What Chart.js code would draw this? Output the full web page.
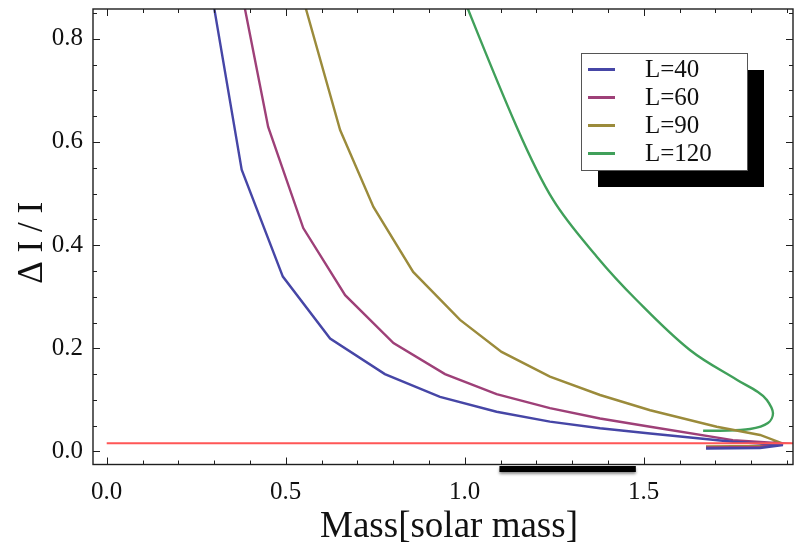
<!DOCTYPE html>
<html>
<head>
<meta charset="utf-8">
<script src="https://cdn.jsdelivr.net/npm/chart.js@4.4.1/dist/chart.umd.min.js"></script>
<style>
  html, body { margin: 0; padding: 0; background: #ffffff; }
  #wrap { width: 798px; height: 548px; }
</style>
</head>
<body>
<div id="wrap"><canvas id="c" width="798" height="548"></canvas></div>
<script>
// ---- data ----
const seriesNames = ['L=40', 'L=60', 'L=90', 'L=120'];

const massL40 = [0.278, 0.377, 0.492, 0.624, 0.777, 0.931, 1.089, 1.238, 1.378, 1.518, 1.749, 1.889, 1.825, 1.674];
const dIL40   = [0.95, 0.546, 0.339, 0.219, 0.150, 0.106, 0.077, 0.058, 0.045, 0.035, 0.019, 0.0126, 0.0068, 0.0058];

const massL60 = [0.360, 0.451, 0.549, 0.666, 0.801, 0.945, 1.089, 1.238, 1.378, 1.518, 1.749, 1.885, 1.825, 1.674];
const dIL60   = [0.95, 0.629, 0.433, 0.303, 0.210, 0.150, 0.111, 0.084, 0.064, 0.048, 0.022, 0.016, 0.0087, 0.0078];

const massL90 = [0.519, 0.652, 0.745, 0.856, 0.987, 1.103, 1.238, 1.378, 1.518, 1.704, 1.825, 1.875, 1.825, 1.674];
const dIL90   = [0.95, 0.623, 0.474, 0.348, 0.255, 0.193, 0.145, 0.1095, 0.080, 0.048, 0.032, 0.019, 0.0107, 0.0097];

const massL120 = [0.955, 1.145, 1.2475, 1.369, 1.480, 1.629, 1.761, 1.819, 1.844, 1.861, 1.847, 1.797, 1.713, 1.666];
const dIL120   = [0.95, 0.6295, 0.487, 0.3775, 0.2936, 0.1967, 0.1386, 0.1153, 0.0998, 0.0746, 0.0552, 0.0436, 0.0403, 0.0403];

const refLineMass = [0.0, 1.917];
const refLineDI   = [0.016, 0.016];

// ---- axes / ticks ----
const X_MIN = -0.0383, X_MAX = 1.917;
const Y_MIN = -0.0252, Y_MAX = 0.8576;
const xMajorTicks = [0.0, 0.5, 1.0, 1.5];
const xTickLabels = ['0.0', '0.5', '1.0', '1.5'];
const xMinorTicks = [0.1, 0.2, 0.3, 0.4, 0.6, 0.7, 0.8, 0.9, 1.1, 1.2, 1.3, 1.4, 1.6, 1.7, 1.8, 1.9];
const yMajorTicks = [0.0, 0.2, 0.4, 0.6, 0.8];
const yTickLabels = ['0.0', '0.2', '0.4', '0.6', '0.8'];
const yMinorTicks = [0.05, 0.1, 0.15, 0.25, 0.3, 0.35, 0.45, 0.5, 0.55, 0.65, 0.7, 0.75, 0.85];
const xTitle = 'Mass[solar mass]';
const yTitle = 'Δ I / I';
const barRange = [1.097, 1.478];

const colors = ['#4646A6', '#9E4078', '#9B8B3B', '#40A05A'];
const SERIF = '"Liberation Serif", "DejaVu Serif", serif';

function pts(xs, ys) { return xs.map((v, i) => ({ x: v, y: ys[i] })); }

const seriesX = [massL40, massL60, massL90, massL120];
const seriesY = [dIL40, dIL60, dIL90, dIL120];

const datasets = seriesNames.map((n, i) => ({
  label: n,
  data: pts(seriesX[i], seriesY[i]),
  showLine: true,
  borderColor: colors[i],
  backgroundColor: colors[i],
  borderWidth: 2.4,
  pointRadius: 0,
  tension: i === 3 ? 0.35 : 0,
  clip: 0,
  order: 1
}));
datasets.push({
  label: 'ref',
  data: pts(refLineMass, refLineDI),
  showLine: true,
  borderColor: '#ff5656',
  borderWidth: 2,
  pointRadius: 0,
  clip: 0,
  order: -1
});

const decoPlugin = {
  id: 'deco',
  afterDraw(chart) {
    const { ctx, chartArea: a, scales: { x, y } } = chart;
    ctx.save();
    // frame
    ctx.strokeStyle = '#1e1e1e';
    ctx.lineWidth = 1.4;
    ctx.strokeRect(a.left, a.top, a.right - a.left, a.bottom - a.top);
    // ticks (inward, on all four sides)
    ctx.lineWidth = 1;
    const seg = (x1, y1, x2, y2) => { ctx.beginPath(); ctx.moveTo(x1, y1); ctx.lineTo(x2, y2); ctx.stroke(); };
    const xt = (vals, len) => vals.forEach(v => {
      const p = Math.round(x.getPixelForValue(v)) + 0.5;
      seg(p, a.bottom, p, a.bottom - len);
      seg(p, a.top, p, a.top + len);
    });
    const yt = (vals, len) => vals.forEach(v => {
      const p = Math.round(y.getPixelForValue(v)) + 0.5;
      if (p < a.top || p > a.bottom) return;
      seg(a.left, p, a.left + len, p);
      seg(a.right, p, a.right - len, p);
    });
    xt(xMajorTicks, 7); xt(xMinorTicks, 4);
    yt(yMajorTicks, 7); yt(yMinorTicks, 4);

    // axis titles
    ctx.fillStyle = '#111';
    ctx.font = '37px ' + SERIF;
    ctx.textAlign = 'center';
    ctx.textBaseline = 'middle';
    ctx.fillText(xTitle, (a.left + a.right) / 2 + 6, 527);
    ctx.save();
    ctx.translate(33, (a.top + a.bottom) / 2 + 6);
    ctx.rotate(-Math.PI / 2);
    ctx.font = '35px ' + SERIF;
    ctx.fillText(yTitle, 0, 0);
    ctx.restore();

    // black bar under the axis (artifact in the reference)
    const bx1 = x.getPixelForValue(barRange[0]);
    const bx2 = x.getPixelForValue(barRange[1]);
    ctx.save();
    ctx.shadowColor = 'rgba(0,0,0,0.45)';
    ctx.shadowBlur = 3;
    ctx.shadowOffsetY = 2;
    ctx.fillStyle = '#000';
    ctx.fillRect(bx1, a.bottom + 1.5, bx2 - bx1, 6);
    ctx.restore();

    // legend with drop shadow
    const lx = 581, ly = 53, lw = 166, lh = 117, off = 17;
    ctx.fillStyle = '#000';
    ctx.fillRect(lx + off, ly + off, lw, lh);
    ctx.fillStyle = '#fff';
    ctx.fillRect(lx, ly, lw, lh);
    ctx.strokeStyle = '#555';
    ctx.lineWidth = 1;
    ctx.strokeRect(lx + 0.5, ly + 0.5, lw, lh);
    const rows = [69.5, 97.5, 125.5, 153.5];
    ctx.font = '25px ' + SERIF;
    ctx.textAlign = 'left';
    ctx.textBaseline = 'middle';
    seriesNames.forEach((n, i) => {
      ctx.strokeStyle = colors[i];
      ctx.lineWidth = 3;
      seg(588, rows[i], 615, rows[i]);
      ctx.fillStyle = '#111';
      ctx.fillText(n, 645, rows[i] + 1);
    });
    ctx.restore();
  }
};

new Chart(document.getElementById('c'), {
  type: 'scatter',
  data: { datasets },
  options: {
    responsive: false,
    animation: false,
    devicePixelRatio: 1,
    layout: { padding: { top: 9, right: 5, left: 0, bottom: 0 } },
    plugins: { legend: { display: false }, tooltip: { enabled: false } },
    scales: {
      x: {
        type: 'linear', min: X_MIN, max: X_MAX,
        grid: { display: false, drawTicks: false },
        border: { display: false },
        ticks: {
          font: { family: SERIF, size: 25 }, color: '#111', padding: 13,
          maxRotation: 0,
          callback: (v) => { const i = xMajorTicks.indexOf(v); return i >= 0 ? xTickLabels[i] : ''; }
        },
        afterBuildTicks: (s) => { s.ticks = xMajorTicks.map(v => ({ value: v })); },
        afterFit: (s) => { s.height = 83.5; s.paddingLeft = 0; s.paddingRight = 0; }
      },
      y: {
        type: 'linear', min: Y_MIN, max: Y_MAX,
        grid: { display: false, drawTicks: false },
        border: { display: false },
        ticks: {
          font: { family: SERIF, size: 25 }, color: '#111', padding: 10,
          callback: (v) => { const i = yMajorTicks.indexOf(v); return i >= 0 ? yTickLabels[i] : ''; }
        },
        afterBuildTicks: (s) => { s.ticks = yMajorTicks.map(v => ({ value: v })); },
        afterFit: (s) => { s.width = 93; s.paddingTop = 0; s.paddingBottom = 0; }
      }
    }
  },
  plugins: [decoPlugin]
});
</script>
</body>
</html>
